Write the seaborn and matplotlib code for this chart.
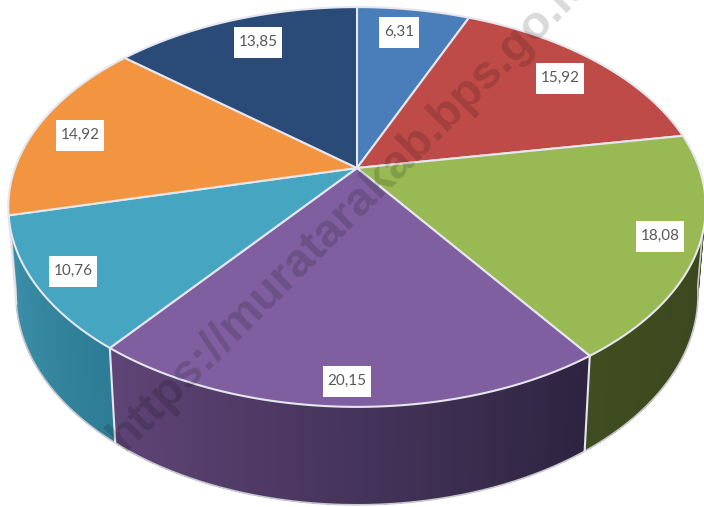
import numpy as np
import matplotlib
matplotlib.use("Agg")
import matplotlib.pyplot as plt
import seaborn as sns

# Slice values, clockwise from the top
values = [6.31, 15.92, 18.08, 20.15, 10.76, 14.92, 13.85]
labels = ["6,31", "15,92", "18,08", "20,15", "10,76", "14,92", "13,85"]
top_colors = ["#4a7ebb", "#be4b48", "#98b954", "#7f5f9f", "#46a6c2", "#f39440", "#2a4b78"]
wall_left = ["#3f5f8a", "#8a3a38", "#3f4d20", "#604578", "#3f93ad", "#b06a2c", "#1f3858"]
wall_right = ["#3f5f8a", "#8a3a38", "#3b471e", "#2d2440", "#2e7c95", "#b06a2c", "#1f3858"]
label_x = [399, 560, 660, 347, 73, 80, 258]
label_y = [32, 78, 236, 381, 271, 135, 42]
watermark = "https://muratarakab.bps.go.id"

# Tilted disc: centre, radii, perspective and wall depth in pixels
CX, CY, RX, RY, PERSP = 357, 168, 342, 192.3, 0.195
DEPTH, SHRINK_X, STRETCH_Y = 86, 0.978, 1.05
EDGE = "#e6e6ee"


def top_rim(theta):
    t = np.radians(theta)
    u, v = np.sin(t), np.cos(t)
    w = 1 + PERSP * v
    return CX + RX * u / w, CY - RY * v / w


def bottom_rim(theta):
    x, y = top_rim(theta)
    return CX + (x - CX) * SHRINK_X, CY + (y - CY) * STRETCH_Y + DEPTH


sns.set_theme(style="white")
plt.rcParams["font.family"] = ["Lato", "DejaVu Sans"]

fig = plt.figure(figsize=(7.04, 5.07), dpi=100)
ax = fig.add_axes([0, 0, 1, 1])

# The pie gives the slice angles, then each slice is redrawn tilted
wedges, _ = ax.pie(values, startangle=90, counterclock=False, normalize=True)
spans = []
for wedge in wedges:
    spans.append((90 - wedge.theta2, 90 - wedge.theta1))
    wedge.remove()
ax.set_aspect("auto")
ax.set_xlim(0, 704)
ax.set_ylim(507, 0)
ax.axis("off")

# Side wall, only the part facing the viewer
VIS_START, VIS_END = 99, 260
for i, (a, b) in enumerate(spans):
    a = max(a, VIS_START)
    b = min(b, VIS_END)
    if b <= a:
        continue
    steps = np.linspace(a, b, int(b - a) + 2)
    shades = sns.blend_palette([wall_right[i], wall_left[i]], len(steps))
    for j in range(len(steps) - 1):
        # each strip runs on to the end of the slice, the next one paints over it
        arc = np.linspace(steps[j], b, 60)
        x1, y1 = top_rim(arc)
        x2, y2 = bottom_rim(arc[::-1])
        ax.fill(np.r_[x1, x2], np.r_[y1, y2], color=shades[j], lw=0, zorder=1)

# Outline of the wall and the lines between slices
arc = np.linspace(VIS_START, VIS_END, 200)
x_low, y_low = bottom_rim(arc)
x_start, y_start = top_rim(VIS_START)
x_end, y_end = top_rim(VIS_END)
ax.plot(np.r_[x_start, x_low, x_end], np.r_[y_start, y_low, y_end], color="#c9c9cf", lw=1.2, zorder=2)
for a, b in spans:
    if VIS_START < b < VIS_END:
        ax.plot([top_rim(b)[0], bottom_rim(b)[0]], [top_rim(b)[1], bottom_rim(b)[1]],
                color=EDGE, lw=1.5, zorder=2)

# Top of the disc
for i, (a, b) in enumerate(spans):
    arc = np.linspace(a, b, 100)
    x, y = top_rim(arc)
    ax.fill(np.r_[CX, x], np.r_[CY, y], facecolor=top_colors[i], edgecolor=EDGE,
            lw=1.5, joinstyle="round", zorder=3)

# Value labels on white boxes
for x, y, text in zip(label_x, label_y, labels):
    width = 40 if len(text) == 4 else 48
    ax.add_patch(plt.Rectangle((x - width / 2, y - 15.5), width, 31, color="white", lw=0, zorder=4))
    ax.text(x, y, text, ha="center", va="center", fontsize=11, color="#595959", zorder=5)

# Watermark across the chart, runs off the top as in the source
ax.text(125, 452, watermark, rotation=45, rotation_mode="anchor", ha="left", va="baseline",
        fontsize=34, fontweight="bold", family="Liberation Sans", color="black", alpha=0.15,
        clip_on=True, zorder=6)

plt.savefig("out.png", dpi=100)
plt.close()
print("Done")
